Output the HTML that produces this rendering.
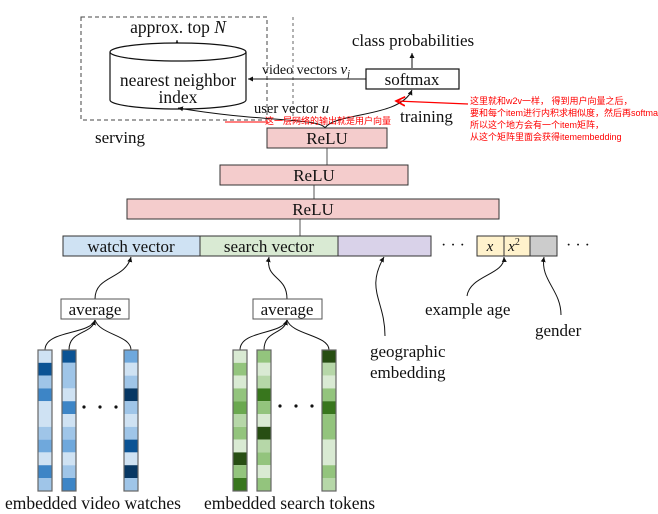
<!DOCTYPE html>
<html><head><meta charset="utf-8"><style>
html,body{margin:0;padding:0;background:#fff}
svg{display:block}
text{font-family:"Liberation Serif",serif;fill:#111}
.cn{font-family:"Liberation Sans","Noto Sans CJK SC",sans-serif;fill:#f00;font-size:9px}
</style></head><body>
<svg width="658" height="514" viewBox="0 0 658 514" xmlns="http://www.w3.org/2000/svg">
<defs><marker id="a" markerWidth="6" markerHeight="6" refX="5" refY="3" orient="auto"><path d="M0,0.5 L5,3 L0,5.5 Z" fill="#111"/></marker>
<marker id="r" markerWidth="8" markerHeight="8" refX="7" refY="4" orient="auto"><path d="M0,0.5 L7,4 L0,7.5" fill="none" stroke="#f00" stroke-width="1.3"/></marker></defs>
<rect x="81" y="17" width="186" height="103" fill="none" stroke="#444" stroke-dasharray="4,3"/>
<text x="178" y="33" font-size="17.5" text-anchor="middle">approx. top <tspan font-style="italic">N</tspan></text>
<line x1="177" y1="57" x2="177" y2="40" stroke="#111" marker-end="url(#a)"/>
<path d="M110,52 L110,100 A68,9 0 0 0 246,100 L246,52" fill="#fff" stroke="#111" stroke-width="1.2"/>
<ellipse cx="178" cy="52" rx="68" ry="9" fill="#fff" stroke="#111" stroke-width="1.2"/>
<text x="178" y="86" font-size="17.5" text-anchor="middle">nearest neighbor</text>
<text x="178" y="103" font-size="17.5" text-anchor="middle">index</text>
<line x1="293" y1="17" x2="293" y2="120" stroke="#666" stroke-dasharray="3,3"/>
<text x="413" y="46" font-size="17" text-anchor="middle">class probabilities</text>
<line x1="412" y1="68" x2="412" y2="53" stroke="#111" marker-end="url(#a)"/>
<rect x="366" y="69" width="93" height="20" fill="#fff" stroke="#111" stroke-width="1.2"/>
<text x="412" y="85" font-size="17" text-anchor="middle">softmax</text>
<line x1="366" y1="79" x2="248" y2="79" stroke="#111" marker-end="url(#a)"/>
<text x="262" y="74" font-size="14">video vectors <tspan font-style="italic" font-size="15">v</tspan><tspan font-style="italic" font-size="10" dy="3">j</tspan></text>
<text x="254" y="113" font-size="14.5">user vector <tspan font-style="italic" font-size="15">u</tspan></text>
<path d="M325,128 C320,118 260,122 178,108" fill="none" stroke="#111" marker-end="url(#a)"/>
<path d="M325,128 C335,112 400,118 412,90" fill="none" stroke="#111" marker-end="url(#a)"/>
<line x1="225" y1="122" x2="268" y2="122" stroke="#f00"/>
<text class="cn" x="265" y="124">这一层网络的输出就是用户向量</text>
<text x="400" y="122" font-size="17">training</text>
<path d="M468,104 L396,101" fill="none" stroke="#f00" stroke-width="1.3" marker-end="url(#r)"/>
<text class="cn" x="470" y="104">这里就和w2v一样， 得到用户向量之后，</text>
<text class="cn" x="470" y="116">要和每个item进行内积求相似度，然后再softmax</text>
<text class="cn" x="470" y="128">所以这个地方会有一个item矩阵，</text>
<text class="cn" x="470" y="140">从这个矩阵里面会获得itemembedding</text>
<text x="95" y="143" font-size="17">serving</text>
<line x1="327" y1="165" x2="327" y2="148" stroke="#555"/>
<line x1="314" y1="199" x2="314" y2="185" stroke="#555"/>
<line x1="300" y1="236" x2="300" y2="219" stroke="#555"/>
<rect x="267" y="128" width="120" height="20" fill="#f4cccc" stroke="#333"/>
<text x="327" y="144" font-size="17" text-anchor="middle">ReLU</text>
<rect x="220" y="165" width="188" height="20" fill="#f4cccc" stroke="#333"/>
<text x="314" y="181" font-size="17" text-anchor="middle">ReLU</text>
<rect x="127" y="199" width="372" height="20" fill="#f4cccc" stroke="#333"/>
<text x="313" y="215" font-size="17" text-anchor="middle">ReLU</text>
<rect x="63" y="236" width="137" height="20" fill="#cfe2f3" stroke="#333"/>
<rect x="200" y="236" width="138" height="20" fill="#d9ead3" stroke="#333"/>
<rect x="338" y="236" width="93" height="20" fill="#d9d2e9" stroke="#333"/>
<text x="131" y="252" font-size="17" text-anchor="middle">watch vector</text>
<text x="269" y="252" font-size="17" text-anchor="middle">search vector</text>
<text x="453" y="250" font-size="16" text-anchor="middle">· · ·</text>
<rect x="477" y="236" width="27" height="20" fill="#fff2cc" stroke="#333"/>
<rect x="504" y="236" width="26" height="20" fill="#fff2cc" stroke="#333"/>
<rect x="530" y="236" width="27" height="20" fill="#cccccc" stroke="#333"/>
<text x="490" y="251" font-size="15" font-style="italic" text-anchor="middle">x</text>
<text x="514" y="251" font-size="15" font-style="italic" text-anchor="middle">x<tspan font-size="10" dy="-6" font-style="normal">2</tspan></text>
<text x="578" y="250" font-size="16" text-anchor="middle">· · ·</text>
<path d="M385,336 C385,300 365,290 384,257" fill="none" stroke="#111" marker-end="url(#a)"/>
<text x="370" y="357" font-size="17">geographic</text>
<text x="370" y="378" font-size="17">embedding</text>
<path d="M467,296 C470,275 505,275 504,257" fill="none" stroke="#111" marker-end="url(#a)"/>
<text x="425" y="315" font-size="17">example age</text>
<path d="M561,315 C561,290 540,280 544,257" fill="none" stroke="#111" marker-end="url(#a)"/>
<text x="535" y="336" font-size="17">gender</text>
<path d="M95,299 C95,275 125,280 131,257" fill="none" stroke="#111" marker-end="url(#a)"/>
<path d="M287,299 C287,275 265,280 269,257" fill="none" stroke="#111" marker-end="url(#a)"/>
<rect x="61" y="299" width="68" height="20" fill="#fff" stroke="#555"/>
<text x="95" y="315" font-size="17" text-anchor="middle">average</text>
<rect x="253" y="299" width="69" height="20" fill="#fff" stroke="#555"/>
<text x="287" y="315" font-size="17" text-anchor="middle">average</text>
<g fill="none" stroke="#111">
<path d="M45,350 C45,330 90,335 95,320" marker-end="url(#a)"/>
<path d="M69,350 C69,330 92,335 95,320"/>
<path d="M131,350 C131,335 100,335 95,320"/>
<path d="M240,350 C240,330 282,335 287,320" marker-end="url(#a)"/>
<path d="M264,350 C264,330 284,335 287,320"/>
<path d="M329,350 C329,335 292,335 287,320"/>
</g>
<g stroke="none">
<rect x="38" y="350" width="14" height="12.8" fill="#cfe2f3"/><rect x="38" y="362.8" width="14" height="12.8" fill="#0b5394"/><rect x="38" y="375.6" width="14" height="12.8" fill="#9fc5e8"/><rect x="38" y="388.4" width="14" height="12.8" fill="#3d85c6"/><rect x="38" y="401.2" width="14" height="25.6" fill="#cfe2f3"/><rect x="38" y="426.8" width="14" height="12.8" fill="#9fc5e8"/><rect x="38" y="439.6" width="14" height="12.8" fill="#6fa8dc"/><rect x="38" y="452.4" width="14" height="12.8" fill="#cfe2f3"/><rect x="38" y="465.2" width="14" height="12.8" fill="#3d85c6"/><rect x="38" y="478" width="14" height="13" fill="#9fc5e8"/>
<rect x="62" y="350" width="14" height="12.8" fill="#0b5394"/><rect x="62" y="362.8" width="14" height="25.6" fill="#9fc5e8"/><rect x="62" y="388.4" width="14" height="12.8" fill="#cfe2f3"/><rect x="62" y="401.2" width="14" height="12.8" fill="#3d85c6"/><rect x="62" y="414" width="14" height="12.8" fill="#cfe2f3"/><rect x="62" y="426.8" width="14" height="12.8" fill="#9fc5e8"/><rect x="62" y="439.6" width="14" height="12.8" fill="#6fa8dc"/><rect x="62" y="452.4" width="14" height="12.8" fill="#cfe2f3"/><rect x="62" y="465.2" width="14" height="12.8" fill="#9fc5e8"/><rect x="62" y="478" width="14" height="13" fill="#3d85c6"/>
<rect x="124" y="350" width="14" height="12.8" fill="#6fa8dc"/><rect x="124" y="362.8" width="14" height="12.8" fill="#cfe2f3"/><rect x="124" y="375.6" width="14" height="12.8" fill="#9fc5e8"/><rect x="124" y="388.4" width="14" height="12.8" fill="#073763"/><rect x="124" y="401.2" width="14" height="12.8" fill="#9fc5e8"/><rect x="124" y="414" width="14" height="12.8" fill="#cfe2f3"/><rect x="124" y="426.8" width="14" height="12.8" fill="#9fc5e8"/><rect x="124" y="439.6" width="14" height="12.8" fill="#0b5394"/><rect x="124" y="452.4" width="14" height="12.8" fill="#cfe2f3"/><rect x="124" y="465.2" width="14" height="12.8" fill="#073763"/><rect x="124" y="478" width="14" height="13" fill="#9fc5e8"/>
<rect x="233" y="350" width="14" height="12.8" fill="#d9ead3"/><rect x="233" y="362.8" width="14" height="12.8" fill="#93c47d"/><rect x="233" y="375.6" width="14" height="12.8" fill="#d9ead3"/><rect x="233" y="388.4" width="14" height="12.8" fill="#93c47d"/><rect x="233" y="401.2" width="14" height="12.8" fill="#6aa84f"/><rect x="233" y="414" width="14" height="12.8" fill="#b6d7a8"/><rect x="233" y="426.8" width="14" height="12.8" fill="#93c47d"/><rect x="233" y="439.6" width="14" height="12.8" fill="#d9ead3"/><rect x="233" y="452.4" width="14" height="12.8" fill="#274e13"/><rect x="233" y="465.2" width="14" height="12.8" fill="#93c47d"/><rect x="233" y="478" width="14" height="13" fill="#38761d"/>
<rect x="257" y="350" width="14" height="12.8" fill="#93c47d"/><rect x="257" y="362.8" width="14" height="12.8" fill="#d9ead3"/><rect x="257" y="375.6" width="14" height="12.8" fill="#b6d7a8"/><rect x="257" y="388.4" width="14" height="12.8" fill="#38761d"/><rect x="257" y="401.2" width="14" height="12.8" fill="#93c47d"/><rect x="257" y="414" width="14" height="12.8" fill="#d9ead3"/><rect x="257" y="426.8" width="14" height="12.8" fill="#274e13"/><rect x="257" y="439.6" width="14" height="12.8" fill="#b6d7a8"/><rect x="257" y="452.4" width="14" height="12.8" fill="#93c47d"/><rect x="257" y="465.2" width="14" height="12.8" fill="#d9ead3"/><rect x="257" y="478" width="14" height="13" fill="#93c47d"/>
<rect x="322" y="350" width="14" height="12.8" fill="#274e13"/><rect x="322" y="362.8" width="14" height="12.8" fill="#b6d7a8"/><rect x="322" y="375.6" width="14" height="12.8" fill="#d9ead3"/><rect x="322" y="388.4" width="14" height="12.8" fill="#93c47d"/><rect x="322" y="401.2" width="14" height="12.8" fill="#38761d"/><rect x="322" y="414" width="14" height="25.6" fill="#93c47d"/><rect x="322" y="439.6" width="14" height="25.6" fill="#d9ead3"/><rect x="322" y="465.2" width="14" height="12.8" fill="#93c47d"/><rect x="322" y="478" width="14" height="13" fill="#b6d7a8"/>
</g>
<g fill="none" stroke="#666" stroke-width="1.2">
<rect x="38" y="350" width="14" height="141"/><rect x="62" y="350" width="14" height="141"/><rect x="124" y="350" width="14" height="141"/>
<rect x="233" y="350" width="14" height="141"/><rect x="257" y="350" width="14" height="141"/><rect x="322" y="350" width="14" height="141"/>
</g>
<g fill="#111"><circle cx="84" cy="407" r="1.6"/><circle cx="100" cy="407" r="1.6"/><circle cx="116" cy="407" r="1.6"/>
<circle cx="280" cy="406" r="1.6"/><circle cx="296" cy="406" r="1.6"/><circle cx="312" cy="406" r="1.6"/></g>
<text x="5" y="509" font-size="17.5">embedded video watches</text>
<text x="204" y="509" font-size="17.5">embedded search tokens</text>
</svg>
</body></html>
